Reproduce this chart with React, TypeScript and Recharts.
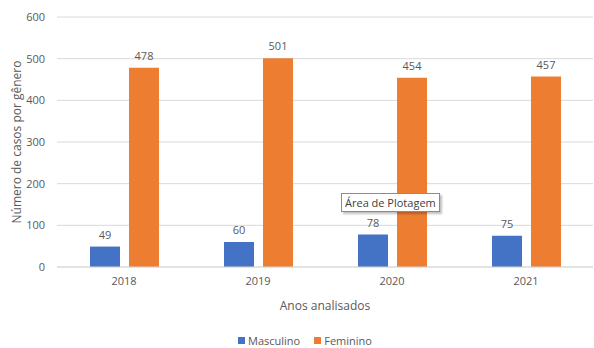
import * as React from 'react'
import {
  BarChart,
  Bar,
  XAxis,
  YAxis,
  CartesianGrid,
  Legend,
  LabelList,
} from 'recharts'

const anos = ['2018', '2019', '2020', '2021']
const masculino = [49, 60, 78, 75]
const feminino = [478, 501, 454, 457]
const yTicks = [0, 100, 200, 300, 400, 500, 600]
const series = [
  { key: 'Masculino', color: '#4472C4' },
  { key: 'Feminino', color: '#ED7D31' },
]

const data = anos.map((ano, i) => ({
  ano,
  Masculino: masculino[i],
  Feminino: feminino[i],
}))

const font = '"Open Sans", sans-serif'
const gray = '#595959'

const LegendBox = () => (
  <div
    style={{
      display: 'flex',
      justifyContent: 'center',
      gap: 14,
      fontSize: 11,
      lineHeight: '13px',
      fontFamily: font,
      color: gray,
    }}
  >
    {series.map((s) => (
      <span key={s.key} style={{ display: 'flex', alignItems: 'center', gap: 3 }}>
        <span style={{ width: 7, height: 7, background: s.color, display: 'inline-block' }} />
        {s.key}
      </span>
    ))}
  </div>
)

export default function App() {
  return (
    <div style={{ position: 'absolute', left: 0, top: 0, background: '#fff', fontFamily: font }}>
      <BarChart
        width={594}
        height={348}
        data={data}
        barGap={9}
        barSize={30}
        margin={{ top: 17, right: 1, left: 0, bottom: 4 }}
      >
        <CartesianGrid vertical={false} stroke="#d9d9d9" />
        <XAxis
          dataKey="ano"
          axisLine={{ stroke: '#d9d9d9' }}
          tickLine={false}
          tick={{ fill: gray, fontSize: 11, fontFamily: font }}
          tickMargin={4}
          height={50}
          label={{
            value: 'Anos analisados',
            position: 'insideBottom',
            offset: 7,
            fill: gray,
            fontSize: 12,
            fontFamily: font,
          }}
        />
        <YAxis
          width={57}
          domain={[0, 600]}
          ticks={yTicks}
          axisLine={false}
          tickLine={false}
          tickMargin={6}
          tick={{ fill: gray, fontSize: 11, fontFamily: font }}
          label={{
            value: 'Número de casos por gênero',
            angle: -90,
            position: 'insideLeft',
            offset: 17,
            fill: gray,
            fontSize: 12,
            fontFamily: font,
            style: { textAnchor: 'middle' },
          }}
        />
        <Legend
          verticalAlign="bottom"
          height={27}
          content={LegendBox}
          wrapperStyle={{ left: 8, width: 594, top: 334 }}
        />
        {series.map((s) => (
          <Bar key={s.key} dataKey={s.key} fill={s.color} isAnimationActive={false}>
            <LabelList dataKey={s.key} position="top" offset={8} fill={gray} fontSize={11} fontFamily={font} />
          </Bar>
        ))}
      </BarChart>
      <div
        style={{
          position: 'absolute',
          left: 341,
          top: 193,
          height: 17,
          padding: '0 3px',
          border: '1px solid #8c8c8c',
          background: '#fff',
          boxShadow: '2px 2px 2px rgba(0,0,0,0.25)',
          fontSize: 11,
          lineHeight: '17px',
          color: '#404040',
          whiteSpace: 'nowrap',
        }}
      >
        Área de Plotagem
      </div>
    </div>
  )
}
